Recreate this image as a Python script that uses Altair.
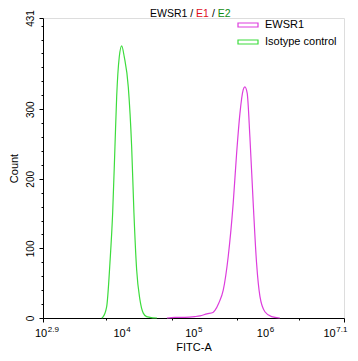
import altair as alt
import pandas as pd
import math

# ---- data ----
# x values are log10(FITC-A)
iso_log = [3.719, 3.733, 3.788, 3.834, 3.872, 3.904, 3.928, 3.964, 3.998, 4.034,
           4.090, 4.137, 4.169, 4.207, 4.253, 4.299, 4.346, 4.392, 4.490]
iso_cnt = [0, 1, 16, 79, 151, 246, 318, 375, 391, 375,
           332, 246, 151, 69, 26, 7, 2, 1, 0]

ewsr1_log = [4.629, 4.741, 4.880, 5.020, 5.090, 5.187, 5.271, 5.299, 5.355, 5.415,
             5.484, 5.554, 5.602, 5.648, 5.694, 5.717, 5.749, 5.787, 5.833, 5.880,
             5.927, 5.996, 6.090, 6.205]
ewsr1_cnt = [0, 1, 1, 2, 3, 6, 8, 11, 22, 40,
             88, 165, 237, 294, 328, 332, 323, 260, 165, 79,
             31, 9, 2, 0]

series_names = ["EWSR1", "Isotype control"]
series_colors = ["#dd3ddd", "#3ddc3d"]

x_major = [2.9, 4, 5, 6, 7.1]
x_major_exp = ["2.9", "4", "5", "6", "7.1"]
y_major = [0, 100, 200, 300, 431]

title_parts = ["EWSR1 /", "E1", "/", "E2"]
title_colors = ["#000000", "#e0101a", "#000000", "#118c11"]

X_MIN, X_MAX = 2.9, 7.1
Y_MAX = 431

# ---- tables ----
df = pd.concat([
    pd.DataFrame({"logx": ewsr1_log, "count": ewsr1_cnt, "series": "EWSR1"}),
    pd.DataFrame({"logx": iso_log, "count": iso_cnt, "series": "Isotype control"}),
])

x_minor = []
for d in range(2, 8):
    for k in range(1, 10):
        v = round(math.log10(k * 10 ** d), 4)
        if X_MIN < v < X_MAX and v not in x_major:
            x_minor.append(v)
x_ticks = x_major + x_minor
y_ticks = list(range(0, 421, 20)) + [431]

W, H = 301, 300
xscale = alt.Scale(domain=[X_MIN, X_MAX], nice=False, zero=False)
yscale = alt.Scale(domain=[0, Y_MAX], nice=False)

major_x_test = "indexof([2.9,4,5,6,7.1], datum.value) >= 0"
major_y_test = "indexof([0,100,200,300,431], datum.value) >= 0"

lines = alt.Chart(df).mark_line(strokeWidth=1.2, interpolate="monotone").encode(
    x=alt.X("logx:Q", scale=xscale,
            axis=alt.Axis(values=x_ticks, labels=False, grid=False,
                          tickSize={"condition": {"test": major_x_test, "value": 4}, "value": 2},
                          tickColor="black", domainColor="black",
                          title="FITC-A", titleFont="Liberation Sans", titleFontSize=11,
                          titleFontWeight="normal", titleColor="black", titlePadding=19)),
    y=alt.Y("count:Q", scale=yscale,
            axis=alt.Axis(values=y_ticks, grid=False,
                          labelExpr="indexof([0,100,200,300,431], datum.value) >= 0 ? datum.label : ''",
                          tickSize={"condition": {"test": major_y_test, "value": 4}, "value": 2},
                          labelAngle=270, labelFont="Liberation Sans", labelFontSize=10,
                          labelColor="black", labelPadding=4, labelOverlap=False,
                          labelFlush=False,
                          tickColor="black", domainColor="black",
                          title="Count", titleFont="Liberation Sans", titleFontSize=11,
                          titleFontWeight="normal", titleColor="black", titlePadding=6)),
    color=alt.Color("series:N",
                    scale=alt.Scale(domain=series_names, range=series_colors),
                    legend=alt.Legend(title=None, orient="none", legendX=199, legendY=1,
                                      symbolType="M-2,-0.4H2V0.4H-2Z", symbolSize=100,
                                      symbolStrokeWidth=1.2, symbolFillColor="transparent",
                                      labelFont="Liberation Sans", labelFontSize=11,
                                      labelColor="black", labelOffset=11, rowPadding=6,
                                      padding=0)),
)

# x tick labels: "10" with superscript exponent, label centred on its tick but kept inside the canvas
lab_df = pd.DataFrame({"pos": x_major, "exp": x_major_exp})
base_lbl = alt.Chart(lab_df).transform_calculate(
    w="12.2 + length(datum.exp) * 4.45",
    cpx=f"(datum.pos - {X_MIN}) * {W} / {X_MAX - X_MIN}",
).transform_calculate(
    left=f"max(-8, min(datum.cpx - datum.w / 2, {W} + 5 - datum.w))",
).transform_calculate(
    bx=f"{X_MIN} + (datum.left + 12.2) * {X_MAX - X_MIN} / {W}",
    ex=f"{X_MIN} + (datum.left + 12.8) * {X_MAX - X_MIN} / {W}",
    base="'10'",
)
lbl10 = base_lbl.mark_text(align="right", baseline="alphabetic", font="Liberation Sans",
                           fontSize=11, color="black").encode(
    x=alt.X("bx:Q", scale=xscale), y=alt.value(H + 19), text="base:N")
lblexp = base_lbl.mark_text(align="left", baseline="alphabetic", font="Liberation Sans",
                            fontSize=8, color="black").encode(
    x=alt.X("ex:Q", scale=xscale), y=alt.value(H + 14), text="exp:N")

# multi-coloured title, pieces laid out left to right
TFS = 10.5
t_x = [107, 153.1, 168.9, 174.7]
title_layers = []
for p, c, xp in zip(title_parts, title_colors, t_x):
    title_layers.append(
        alt.Chart(pd.DataFrame({"t": [p]})).mark_text(
            align="left", baseline="alphabetic", font="Liberation Sans", fontSize=TFS, color=c
        ).encode(x=alt.value(xp), y=alt.value(-1.5), text="t:N")
    )

chart = alt.layer(lines, lbl10, lblexp, *title_layers).properties(
    width=W, height=H,
    autosize=alt.AutoSizeParams(type="none"),
    padding={"left": 35, "top": 10, "right": 6, "bottom": 35},
).configure_view(stroke="black", strokeWidth=1).configure(background="white")

chart.save("out.html", embed_options={"renderer": "svg", "actions": False})
